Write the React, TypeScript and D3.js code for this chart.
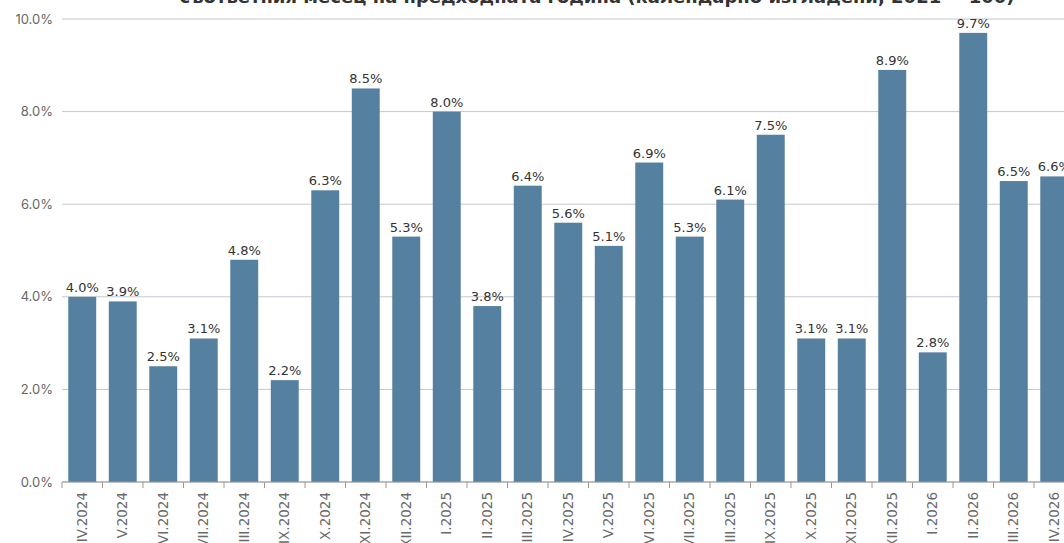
import React from "react";
import * as d3 from "d3";

const categories = [
  "IV.2024", "V.2024", "VI.2024", "VII.2024", "VIII.2024", "IX.2024", "X.2024", "XI.2024", "XII.2024",
  "I.2025", "II.2025", "III.2025", "IV.2025", "V.2025", "VI.2025", "VII.2025", "VIII.2025", "IX.2025",
  "X.2025", "XI.2025", "XII.2025", "I.2026", "II.2026", "III.2026", "IV.2026",
];
const values = [4.0, 3.9, 2.5, 3.1, 4.8, 2.2, 6.3, 8.5, 5.3, 8.0, 3.8, 6.4, 5.6, 5.1, 6.9, 5.3, 6.1, 7.5, 3.1, 3.1, 8.9, 2.8, 9.7, 6.5, 6.6];
const yTicks = [0, 2, 4, 6, 8, 10];
const titleLine = "съответния месец на предходната година (календарно изгладени, 2021 = 100)";

export default function App() {
  const W = 1064, H = 543;
  const x = d3.scaleBand<string>().domain(categories).range([62, 62 + 40.5 * categories.length]).paddingInner(0.31).paddingOuter(0.155);
  const y = d3.scaleLinear().domain([0, 10]).range([482, 19]);
  const bw = x.bandwidth();
  return (
    <svg width={W} height={H} style={{ position: "absolute", left: 0, top: 0, display: "block" }}>
      <rect width={W} height={H} fill="#fff" />
      <text x={597} y={3} textAnchor="middle" fontFamily="DejaVu Sans" fontWeight="bold" fontSize={18} fill="#333">{titleLine}</text>
      {yTicks.map((t) => (
        <g key={t}>
          <line x1={62} x2={W} y1={y(t)} y2={y(t)} stroke="#c3c8d0" strokeWidth={1} />
          <text x={53} y={y(t)} dy="0.35em" textAnchor="end" fontFamily="Inter" fontSize={13} fill="#666">{t.toFixed(1) + "%"}</text>
        </g>
      ))}
      {categories.map((c, i) => (
        <rect key={c} x={x(c)} y={y(values[i])} width={bw} height={y(0) - y(values[i])} fill="#56809f" />
      ))}
      {categories.map((c, i) => (
        <text key={"v" + c} x={(x(c) as number) + bw / 2} y={y(values[i]) - 5} textAnchor="middle" fontFamily="DejaVu Sans" fontSize={13} fill="#333">{values[i].toFixed(1) + "%"}</text>
      ))}
      <line x1={62} x2={W} y1={482} y2={482} stroke="#999" strokeWidth={1} />
      {categories.map((c) => (
        <line key={"t" + c} x1={(x(c) as number) - x.step() * x.paddingInner() / 2} x2={(x(c) as number) - x.step() * x.paddingInner() / 2} y1={482} y2={488} stroke="#999" />
      ))}
      {categories.map((c) => (
        <text key={"l" + c} transform={`translate(${(x(c) as number) + bw / 2},492) rotate(-90)`} dy="0.35em" textAnchor="end" fontFamily="DejaVu Sans" fontSize={13.5} fill="#6a6a6a">{c}</text>
      ))}
    </svg>
  );
}
